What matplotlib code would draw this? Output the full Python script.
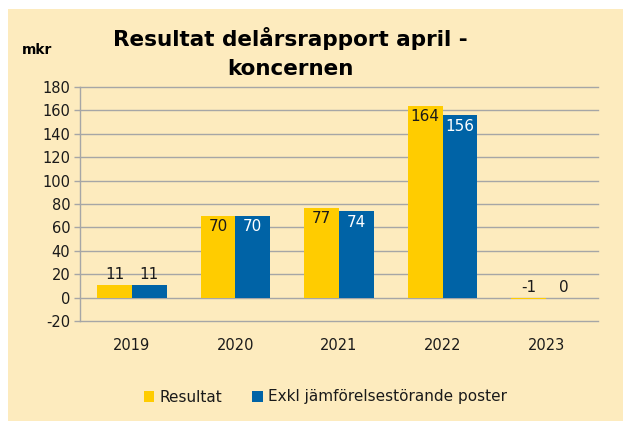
import matplotlib.pyplot as plt
from matplotlib.patches import Rectangle
import numpy as np

plt.rcParams["axes.unicode_minus"] = False

years = ["2019", "2020", "2021", "2022", "2023"]
resultat = [11, 70, 77, 164, -1]
exkl = [11, 70, 74, 156, 0]

BG = "#FDEBBE"
YELLOW = "#FFCC00"
BLUE = "#0063A6"
GRID = "#A6A6A6"
TXT = "#1A1A1A"

fig = plt.figure(figsize=(6.23, 4.21), dpi=100)
fig.patch.set_facecolor("white")
fig.patches.append(Rectangle((8 / 623, 0), 1, 412 / 421, transform=fig.transFigure,
                             facecolor=BG, edgecolor="none", zorder=-10))

ax = fig.add_axes([80 / 623, 1 - 321 / 421, 518 / 623, 234 / 421])
ax.set_facecolor("none")

x = np.arange(len(years))
w = 0.335
b1 = ax.bar(x - w / 2, resultat, w, color=YELLOW, label="Resultat", zorder=3)
b2 = ax.bar(x + w / 2, exkl, w, color=BLUE, label="Exkl jämförelsestörande poster", zorder=3)

# data labels: inside the bar top for tall bars, above for short ones
for bars, vals, inside_col in [(b1, resultat, TXT), (b2, exkl, "white")]:
    for rect, v in zip(bars, vals):
        cx = rect.get_x() + rect.get_width() / 2
        if abs(v) > 30:
            ax.text(cx, v - 3, str(v), ha="center", va="top", fontsize=11,
                    color=inside_col, zorder=4)
        else:
            ax.text(cx, max(v, 0) + 2, str(v), ha="center", va="bottom", fontsize=11,
                    color=TXT, zorder=4)

ax.set_xlim(-0.5, 4.5)
ax.set_ylim(-20, 180)
ax.set_yticks(range(-20, 181, 20))
ax.set_xticks(x)
ax.set_xticklabels(years)
ax.yaxis.grid(True, color=GRID, linewidth=1.0, zorder=0)
ax.set_axisbelow(True)
for s in ["top", "right", "bottom"]:
    ax.spines[s].set_visible(False)
ax.spines["left"].set_color(GRID)
ax.spines["left"].set_linewidth(1.0)
ax.tick_params(axis="y", length=4, color=GRID, width=1.0, labelsize=10.5, pad=3,
               labelcolor=TXT)
ax.tick_params(axis="x", length=0, labelsize=10.5, pad=12, labelcolor=TXT)
for gl in ax.get_ygridlines():
    gl.set_clip_on(False)

fig.text(0.466, 1 - 53 / 421, "Resultat delårsrapport april -\nkoncernen", ha="center",
         va="center", fontsize=15.5, fontweight="bold", linespacing=1.55)
fig.text(22 / 623, 1 - 50 / 421, "mkr", ha="left", va="center", fontsize=10, fontweight="bold")

fig.legend(loc="center", bbox_to_anchor=(0.522, 1 - 397 / 421), ncol=2, frameon=False,
           fontsize=11, handlelength=0.7, handleheight=0.7, handletextpad=0.3,
           columnspacing=2.0, labelcolor=TXT)

plt.savefig("out.png", dpi=100)
